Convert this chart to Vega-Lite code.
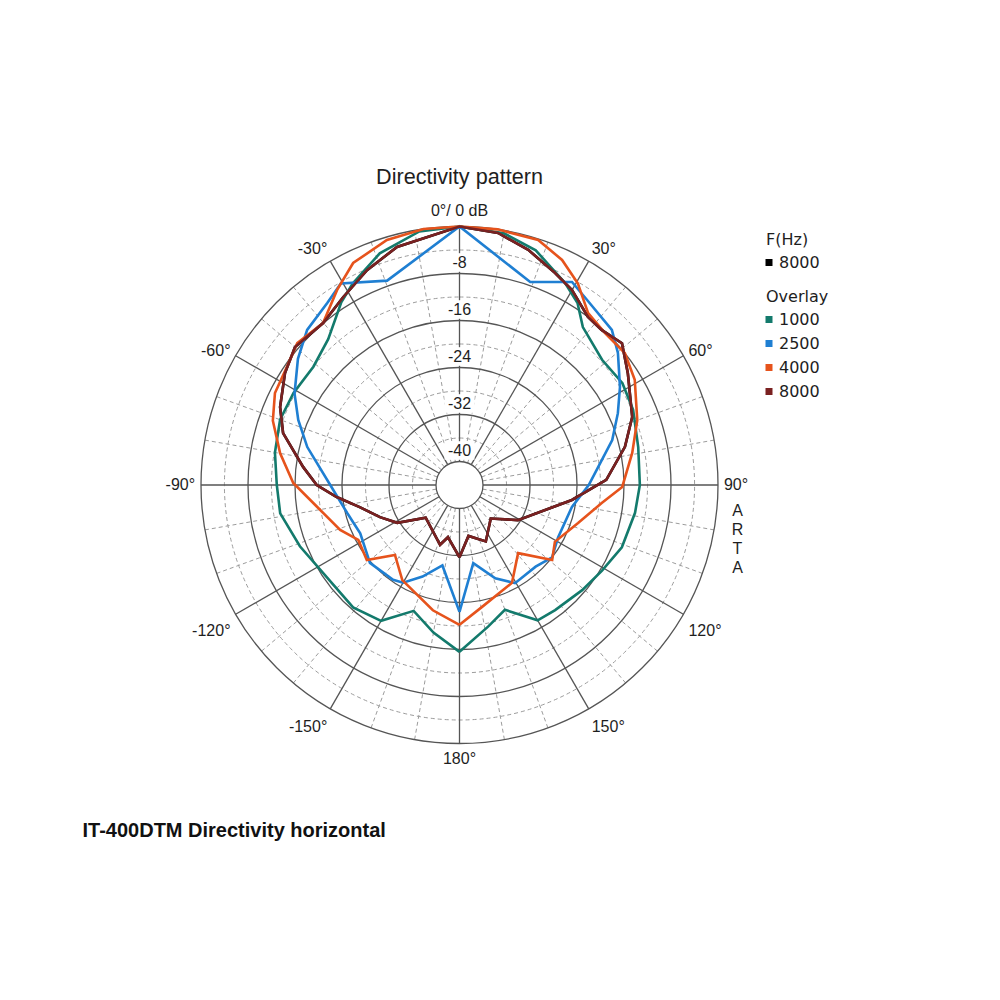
{
  "$schema": "https://vega.github.io/schema/vega-lite/v6.json",
  "width": 517,
  "height": 517,
  "autosize": {"type": "none"},
  "padding": {"left": 201, "top": 226.5, "right": 282, "bottom": 256.5},
  "background": "white",
  "config": {
    "font": "Liberation Sans",
    "view": {"stroke": null},
    "text": {"font": "Liberation Sans", "color": "#1e1e1e"},
    "axisX": {
      "domain": false, "ticks": false, "labels": false, "grid": false,
      "titleFont": "Liberation Sans", "titleFontSize": 20, "titleFontWeight": "bold", "titleColor": "#111111",
      "titleX": -119, "titleY": 86.5, "titleAlign": "left", "titleBaseline": "middle", "titleAngle": 0
    },
    "axisY": {
      "domain": false, "ticks": false, "labels": false, "grid": false,
      "titleFont": "Liberation Sans", "titleFontSize": 16, "titleFontWeight": "normal", "titleColor": "#1e1e1e",
      "titleAngle": 0, "titleX": 536, "titleY": 276, "titleAlign": "center", "titleBaseline": "top", "titleLineHeight": 19
    },
    "legend": {
      "labelFont": "DejaVu Sans", "titleFont": "DejaVu Sans",
      "labelFontSize": 16, "titleFontSize": 16, "titleFontWeight": "normal",
      "labelColor": "#1e1e1e", "titleColor": "#1e1e1e",
      "symbolType": "square", "symbolSize": 9, "symbolStrokeWidth": 4, "symbolOffset": -5,
      "rowPadding": 4, "titlePadding": 7, "labelOffset": 2
    }
  },
  "title": {
    "text": "Directivity pattern",
    "anchor": "middle",
    "frame": "group",
    "offset": 14,
    "fontSize": 21.6,
    "fontWeight": "normal",
    "color": "#1e1e1e",
    "font": "Liberation Sans"
  },
  "datasets": {
    "circles": [
      {"db": 0, "k": "solid"}, {"db": -8, "k": "solid"}, {"db": -16, "k": "solid"},
      {"db": -24, "k": "solid"}, {"db": -32, "k": "solid"}, {"db": -40, "k": "solid"},
      {"db": -4, "k": "dash"}, {"db": -12, "k": "dash"}, {"db": -20, "k": "dash"},
      {"db": -28, "k": "dash"}, {"db": -36, "k": "dash"}
    ],
    "spokes": [
      {"a": 0, "k": "solid"}, {"a": 30, "k": "solid"}, {"a": 60, "k": "solid"}, {"a": 90, "k": "solid"},
      {"a": 120, "k": "solid"}, {"a": 150, "k": "solid"}, {"a": 180, "k": "solid"}, {"a": 210, "k": "solid"},
      {"a": 240, "k": "solid"}, {"a": 270, "k": "solid"}, {"a": 300, "k": "solid"}, {"a": 330, "k": "solid"},
      {"a": 10, "k": "dash"}, {"a": 20, "k": "dash"}, {"a": 40, "k": "dash"}, {"a": 50, "k": "dash"},
      {"a": 70, "k": "dash"}, {"a": 80, "k": "dash"}, {"a": 100, "k": "dash"}, {"a": 110, "k": "dash"},
      {"a": 130, "k": "dash"}, {"a": 140, "k": "dash"}, {"a": 160, "k": "dash"}, {"a": 170, "k": "dash"},
      {"a": 190, "k": "dash"}, {"a": 200, "k": "dash"}, {"a": 220, "k": "dash"}, {"a": 230, "k": "dash"},
      {"a": 250, "k": "dash"}, {"a": 260, "k": "dash"}, {"a": 280, "k": "dash"}, {"a": 290, "k": "dash"},
      {"a": 310, "k": "dash"}, {"a": 320, "k": "dash"}, {"a": 340, "k": "dash"}, {"a": 350, "k": "dash"}
    ],
    "dblabels": [
      {"t": "-8", "db": -8}, {"t": "-16", "db": -16}, {"t": "-24", "db": -24},
      {"t": "-32", "db": -32}, {"t": "-40", "db": -40}
    ],
    "anglelabels": [
      {"t": "0°/ 0 dB", "a": 0}, {"t": "30°", "a": 30}, {"t": "60°", "a": 60}, {"t": "90°", "a": 90},
      {"t": "120°", "a": 120}, {"t": "150°", "a": 150}, {"t": "180°", "a": 180},
      {"t": "-150°", "a": -150}, {"t": "-120°", "a": -120}, {"t": "-90°", "a": -90},
      {"t": "-60°", "a": -60}, {"t": "-30°", "a": -30}
    ],
    "main": [
      {"f": "8000", "a": -180, "db": -31.7}, {"f": "8000", "a": -167.5, "db": -34.9}, {"f": "8000", "a": -162, "db": -33.3},
      {"f": "8000", "a": -134, "db": -36}, {"f": "8000", "a": -121.3, "db": -31.6}, {"f": "8000", "a": -112, "db": -29.4},
      {"f": "8000", "a": -102.5, "db": -26.6}, {"f": "8000", "a": -95.6, "db": -23}, {"f": "8000", "a": -90, "db": -19.7},
      {"f": "8000", "a": -83.4, "db": -17.2}, {"f": "8000", "a": -73.6, "db": -12.7}, {"f": "8000", "a": -66.5, "db": -10.7},
      {"f": "8000", "a": -57.3, "db": -8.7}, {"f": "8000", "a": -50, "db": -7.45}, {"f": "8000", "a": -40.1, "db": -7.95},
      {"f": "8000", "a": -31.8, "db": -6.4}, {"f": "8000", "a": -23.3, "db": -4.2}, {"f": "8000", "a": -14.7, "db": -2.1},
      {"f": "8000", "a": 0, "db": 0}, {"f": "8000", "a": 8.7, "db": -0.6}, {"f": "8000", "a": 16.3, "db": -2.3},
      {"f": "8000", "a": 24.2, "db": -4.4}, {"f": "8000", "a": 30, "db": -5.7}, {"f": "8000", "a": 37.4, "db": -8},
      {"f": "8000", "a": 42.6, "db": -8.2}, {"f": "8000", "a": 48.9, "db": -7.3}, {"f": "8000", "a": 56.4, "db": -9.6},
      {"f": "8000", "a": 68.5, "db": -12.4}, {"f": "8000", "a": 77, "db": -15.1}, {"f": "8000", "a": 88, "db": -19},
      {"f": "8000", "a": 97.6, "db": -24.7}, {"f": "8000", "a": 106.3, "db": -28.8}, {"f": "8000", "a": 121, "db": -32.4},
      {"f": "8000", "a": 137, "db": -36.2}, {"f": "8000", "a": 155, "db": -33.4}, {"f": "8000", "a": 170, "db": -35.2},
      {"f": "8000", "a": 180, "db": -31.7}
    ],
    "curves": [
      {"f": "1000", "a": -180, "db": -15.6}, {"f": "1000", "a": -170, "db": -18.5}, {"f": "1000", "a": -160, "db": -21.2},
      {"f": "1000", "a": -150, "db": -17.3}, {"f": "1000", "a": -139, "db": -16.4}, {"f": "1000", "a": -125, "db": -16.5},
      {"f": "1000", "a": -111, "db": -14.9}, {"f": "1000", "a": -99, "db": -13.1}, {"f": "1000", "a": -90, "db": -12.9},
      {"f": "1000", "a": -80, "db": -12.1}, {"f": "1000", "a": -70, "db": -11.5}, {"f": "1000", "a": -61, "db": -11.7},
      {"f": "1000", "a": -51, "db": -12}, {"f": "1000", "a": -42, "db": -10.6}, {"f": "1000", "a": -33, "db": -7},
      {"f": "1000", "a": -28, "db": -5.2}, {"f": "1000", "a": -19, "db": -2.3}, {"f": "1000", "a": -9, "db": -0.3},
      {"f": "1000", "a": 0, "db": 0}, {"f": "1000", "a": 10, "db": -0.5}, {"f": "1000", "a": 18, "db": -2},
      {"f": "1000", "a": 27.6, "db": -5.2}, {"f": "1000", "a": 33, "db": -7.1}, {"f": "1000", "a": 38, "db": -9.9},
      {"f": "1000", "a": 48.7, "db": -11.7}, {"f": "1000", "a": 58, "db": -11.3}, {"f": "1000", "a": 66.6, "db": -11.8},
      {"f": "1000", "a": 78, "db": -12.9}, {"f": "1000", "a": 90, "db": -13.3}, {"f": "1000", "a": 99, "db": -13.75},
      {"f": "1000", "a": 111, "db": -14.4}, {"f": "1000", "a": 121, "db": -15.7}, {"f": "1000", "a": 130.6, "db": -16.5},
      {"f": "1000", "a": 142.6, "db": -17.2}, {"f": "1000", "a": 150, "db": -17.4}, {"f": "1000", "a": 160, "db": -21.4},
      {"f": "1000", "a": 168.6, "db": -19.4}, {"f": "1000", "a": 180, "db": -15.6},

      {"f": "2500", "a": -180, "db": -22.4}, {"f": "2500", "a": -168, "db": -30}, {"f": "2500", "a": -158, "db": -27.2},
      {"f": "2500", "a": -150, "db": -24.8}, {"f": "2500", "a": -145, "db": -24.3}, {"f": "2500", "a": -131, "db": -23.8},
      {"f": "2500", "a": -116, "db": -25.2}, {"f": "2500", "a": -104, "db": -24.3}, {"f": "2500", "a": -90, "db": -22},
      {"f": "2500", "a": -76, "db": -17.3}, {"f": "2500", "a": -68, "db": -14.4}, {"f": "2500", "a": -61, "db": -11.9},
      {"f": "2500", "a": -52, "db": -9.1}, {"f": "2500", "a": -44.5, "db": -7}, {"f": "2500", "a": -36, "db": -5.7},
      {"f": "2500", "a": -30.5, "db": -4.2}, {"f": "2500", "a": -19.5, "db": -7.1}, {"f": "2500", "a": 0, "db": 0},
      {"f": "2500", "a": 19.2, "db": -7.4}, {"f": "2500", "a": 29, "db": -4.5}, {"f": "2500", "a": 34.6, "db": -5.75},
      {"f": "2500", "a": 44.5, "db": -7}, {"f": "2500", "a": 50.2, "db": -8.9}, {"f": "2500", "a": 58.6, "db": -12},
      {"f": "2500", "a": 65.6, "db": -14.4}, {"f": "2500", "a": 73.6, "db": -16.9}, {"f": "2500", "a": 85, "db": -20.85},
      {"f": "2500", "a": 90, "db": -22}, {"f": "2500", "a": 101, "db": -24.5}, {"f": "2500", "a": 118, "db": -25},
      {"f": "2500", "a": 128, "db": -24}, {"f": "2500", "a": 137, "db": -25}, {"f": "2500", "a": 150.5, "db": -24.8},
      {"f": "2500", "a": 159, "db": -27}, {"f": "2500", "a": 170, "db": -30.5}, {"f": "2500", "a": 180, "db": -22.4},

      {"f": "4000", "a": -180, "db": -20.2}, {"f": "4000", "a": -168, "db": -22.2}, {"f": "4000", "a": -149, "db": -25.1},
      {"f": "4000", "a": -137.3, "db": -27.8}, {"f": "4000", "a": -129, "db": -23.7}, {"f": "4000", "a": -118.5, "db": -24.4},
      {"f": "4000", "a": -110.6, "db": -22.3}, {"f": "4000", "a": -98.8, "db": -19.5}, {"f": "4000", "a": -89.3, "db": -15.7},
      {"f": "4000", "a": -80, "db": -13}, {"f": "4000", "a": -71, "db": -10.4}, {"f": "4000", "a": -63.5, "db": -8.9},
      {"f": "4000", "a": -55.6, "db": -8.4}, {"f": "4000", "a": -48.8, "db": -7.3}, {"f": "4000", "a": -40.1, "db": -7.95},
      {"f": "4000", "a": -32.1, "db": -4.8}, {"f": "4000", "a": -25.6, "db": -2.1}, {"f": "4000", "a": -16.5, "db": -0.5},
      {"f": "4000", "a": -8, "db": 0}, {"f": "4000", "a": 0, "db": 0}, {"f": "4000", "a": 8.5, "db": 0},
      {"f": "4000", "a": 17.8, "db": -0.2}, {"f": "4000", "a": 24.5, "db": -1.9}, {"f": "4000", "a": 30.4, "db": -4.2},
      {"f": "4000", "a": 36.8, "db": -7.45}, {"f": "4000", "a": 43.7, "db": -8.2}, {"f": "4000", "a": 51.4, "db": -8},
      {"f": "4000", "a": 59, "db": -9.2}, {"f": "4000", "a": 70, "db": -11.8}, {"f": "4000", "a": 79.5, "db": -14.1},
      {"f": "4000", "a": 90.7, "db": -16.3}, {"f": "4000", "a": 97.2, "db": -19.6}, {"f": "4000", "a": 107.8, "db": -22.8},
      {"f": "4000", "a": 120.8, "db": -25.1}, {"f": "4000", "a": 129, "db": -23.7}, {"f": "4000", "a": 139.3, "db": -28.7},
      {"f": "4000", "a": 151.8, "db": -25.1}, {"f": "4000", "a": 169.5, "db": -22.9}, {"f": "4000", "a": 180, "db": -20.2},

      {"f": "8000", "a": -180, "db": -31.7}, {"f": "8000", "a": -167.5, "db": -34.9}, {"f": "8000", "a": -162, "db": -33.3},
      {"f": "8000", "a": -134, "db": -36}, {"f": "8000", "a": -121.3, "db": -31.6}, {"f": "8000", "a": -112, "db": -29.4},
      {"f": "8000", "a": -102.5, "db": -26.6}, {"f": "8000", "a": -95.6, "db": -23}, {"f": "8000", "a": -90, "db": -19.7},
      {"f": "8000", "a": -83.4, "db": -17.2}, {"f": "8000", "a": -73.6, "db": -12.7}, {"f": "8000", "a": -66.5, "db": -10.7},
      {"f": "8000", "a": -57.3, "db": -8.7}, {"f": "8000", "a": -50, "db": -7.45}, {"f": "8000", "a": -40.1, "db": -7.95},
      {"f": "8000", "a": -31.8, "db": -6.4}, {"f": "8000", "a": -23.3, "db": -4.2}, {"f": "8000", "a": -14.7, "db": -2.1},
      {"f": "8000", "a": 0, "db": 0}, {"f": "8000", "a": 8.7, "db": -0.6}, {"f": "8000", "a": 16.3, "db": -2.3},
      {"f": "8000", "a": 24.2, "db": -4.4}, {"f": "8000", "a": 30, "db": -5.7}, {"f": "8000", "a": 37.4, "db": -8},
      {"f": "8000", "a": 42.6, "db": -8.2}, {"f": "8000", "a": 48.9, "db": -7.3}, {"f": "8000", "a": 56.4, "db": -9.6},
      {"f": "8000", "a": 68.5, "db": -12.4}, {"f": "8000", "a": 77, "db": -15.1}, {"f": "8000", "a": 88, "db": -19},
      {"f": "8000", "a": 97.6, "db": -24.7}, {"f": "8000", "a": 106.3, "db": -28.8}, {"f": "8000", "a": 121, "db": -32.4},
      {"f": "8000", "a": 137, "db": -36.2}, {"f": "8000", "a": 155, "db": -33.4}, {"f": "8000", "a": 170, "db": -35.2},
      {"f": "8000", "a": 180, "db": -31.7}
    ]
  },
  "layer": [
    {
      "data": {"name": "circles"},
      "transform": [{"filter": "datum.k === 'dash'"}, {"calculate": "datum.db + 44", "as": "r"}],
      "mark": {"type": "arc", "filled": false, "theta": 0, "theta2": 6.2832, "color": "#9c9c9c", "strokeWidth": 1, "strokeDash": [4, 3]},
      "encoding": {
        "radius": {"field": "r", "type": "quantitative", "stack": null, "scale": {"type": "linear", "domain": [0, 44], "range": [0, 258.5], "zero": true}}
      }
    },
    {
      "data": {"name": "spokes"},
      "transform": [
        {"filter": "datum.k === 'dash'"},
        {"calculate": "4*sin(datum.a*PI/180)", "as": "x1"},
        {"calculate": "4*cos(datum.a*PI/180)", "as": "y1"},
        {"calculate": "44*sin(datum.a*PI/180)", "as": "x2"},
        {"calculate": "44*cos(datum.a*PI/180)", "as": "y2"}
      ],
      "mark": {"type": "rule", "color": "#9c9c9c", "strokeWidth": 1, "strokeDash": [4, 3]},
      "encoding": {
        "x": {"field": "x1", "type": "quantitative", "scale": {"domain": [-44, 44], "nice": false, "zero": false}, "title": "IT-400DTM Directivity horizontal"},
        "y": {"field": "y1", "type": "quantitative", "scale": {"domain": [-44, 44], "nice": false, "zero": false}, "title": ["A", "R", "T", "A"]},
        "x2": {"field": "x2"},
        "y2": {"field": "y2"}
      }
    },
    {
      "data": {"name": "circles"},
      "transform": [{"filter": "datum.k === 'solid'"}, {"calculate": "datum.db + 44", "as": "r"}],
      "mark": {"type": "arc", "filled": false, "theta": 0, "theta2": 6.2832, "color": "#555555", "strokeWidth": 1.3},
      "encoding": {
        "radius": {"field": "r", "type": "quantitative", "stack": null, "scale": {"type": "linear", "domain": [0, 44], "range": [0, 258.5], "zero": true}}
      }
    },
    {
      "data": {"name": "spokes"},
      "transform": [
        {"filter": "datum.k === 'solid'"},
        {"calculate": "4*sin(datum.a*PI/180)", "as": "x1"},
        {"calculate": "4*cos(datum.a*PI/180)", "as": "y1"},
        {"calculate": "44*sin(datum.a*PI/180)", "as": "x2"},
        {"calculate": "44*cos(datum.a*PI/180)", "as": "y2"}
      ],
      "mark": {"type": "rule", "color": "#555555", "strokeWidth": 1.3},
      "encoding": {
        "x": {"field": "x1", "type": "quantitative", "scale": {"domain": [-44, 44], "nice": false, "zero": false}, "title": "IT-400DTM Directivity horizontal"},
        "y": {"field": "y1", "type": "quantitative", "scale": {"domain": [-44, 44], "nice": false, "zero": false}, "title": ["A", "R", "T", "A"]},
        "x2": {"field": "x2"},
        "y2": {"field": "y2"}
      }
    },
    {
      "data": {"name": "dblabels"},
      "transform": [{"calculate": "datum.db + 44", "as": "r"}],
      "mark": {"type": "point", "shape": "M-1,-0.62H1V0.62H-1Z", "filled": true, "color": "white", "opacity": 1, "size": 900, "yOffset": -11, "strokeWidth": 0},
      "encoding": {
        "x": {"datum": 0, "type": "quantitative", "scale": {"domain": [-44, 44], "nice": false, "zero": false}, "title": "IT-400DTM Directivity horizontal"},
        "y": {"field": "r", "type": "quantitative", "scale": {"domain": [-44, 44], "nice": false, "zero": false}, "title": ["A", "R", "T", "A"]}
      }
    },
    {
      "data": {"name": "dblabels"},
      "transform": [{"calculate": "datum.db + 44", "as": "r"}],
      "mark": {"type": "text", "fontSize": 16, "baseline": "middle", "align": "center", "dy": -11, "color": "#1e1e1e"},
      "encoding": {
        "x": {"datum": 0, "type": "quantitative", "scale": {"domain": [-44, 44], "nice": false, "zero": false}, "title": "IT-400DTM Directivity horizontal"},
        "y": {"field": "r", "type": "quantitative", "scale": {"domain": [-44, 44], "nice": false, "zero": false}, "title": ["A", "R", "T", "A"]},
        "text": {"field": "t"}
      }
    },
    {
      "data": {"name": "anglelabels"},
      "transform": [
        {"filter": "datum.a === 0 || datum.a === 180"},
        {"calculate": "45*sin(datum.a*PI/180)", "as": "x"},
        {"calculate": "46.7*cos(datum.a*PI/180)", "as": "y"}
      ],
      "mark": {"type": "text", "fontSize": 16, "baseline": "middle", "align": "center", "color": "#1e1e1e"},
      "encoding": {
        "x": {"field": "x", "type": "quantitative", "scale": {"domain": [-44, 44], "nice": false, "zero": false}, "title": "IT-400DTM Directivity horizontal"},
        "y": {"field": "y", "type": "quantitative", "scale": {"domain": [-44, 44], "nice": false, "zero": false}, "title": ["A", "R", "T", "A"]},
        "text": {"field": "t"}
      }
    },
    {
      "data": {"name": "anglelabels"},
      "transform": [
        {"filter": "datum.a > 0 && datum.a < 180"},
        {"calculate": "sin(datum.a*PI/180)", "as": "s"},
        {"calculate": "cos(datum.a*PI/180)", "as": "c"},
        {"calculate": "45*datum.s", "as": "x"},
        {"calculate": "46.64*datum.c - (datum.c >= 0 ? 8 : -24)*datum.s*datum.s*datum.c/5.875", "as": "y"}
      ],
      "mark": {"type": "text", "fontSize": 16, "baseline": "middle", "align": "left", "color": "#1e1e1e"},
      "encoding": {
        "x": {"field": "x", "type": "quantitative", "scale": {"domain": [-44, 44], "nice": false, "zero": false}, "title": "IT-400DTM Directivity horizontal"},
        "y": {"field": "y", "type": "quantitative", "scale": {"domain": [-44, 44], "nice": false, "zero": false}, "title": ["A", "R", "T", "A"]},
        "text": {"field": "t"}
      }
    },
    {
      "data": {"name": "anglelabels"},
      "transform": [
        {"filter": "datum.a < 0 && datum.a > -180"},
        {"calculate": "sin(datum.a*PI/180)", "as": "s"},
        {"calculate": "cos(datum.a*PI/180)", "as": "c"},
        {"calculate": "45*datum.s", "as": "x"},
        {"calculate": "46.64*datum.c - (datum.c >= 0 ? 8 : -24)*datum.s*datum.s*datum.c/5.875", "as": "y"}
      ],
      "mark": {"type": "text", "fontSize": 16, "baseline": "middle", "align": "right", "color": "#1e1e1e"},
      "encoding": {
        "x": {"field": "x", "type": "quantitative", "scale": {"domain": [-44, 44], "nice": false, "zero": false}, "title": "IT-400DTM Directivity horizontal"},
        "y": {"field": "y", "type": "quantitative", "scale": {"domain": [-44, 44], "nice": false, "zero": false}, "title": ["A", "R", "T", "A"]},
        "text": {"field": "t"}
      }
    },
    {
      "data": {"name": "main"},
      "transform": [
        {"calculate": "(datum.db+44)*sin(datum.a*PI/180)", "as": "x"},
        {"calculate": "(datum.db+44)*cos(datum.a*PI/180)", "as": "y"}
      ],
      "mark": {"type": "line", "strokeWidth": 2.6},
      "encoding": {
        "x": {"field": "x", "type": "quantitative", "scale": {"domain": [-44, 44], "nice": false, "zero": false}, "title": "IT-400DTM Directivity horizontal"},
        "y": {"field": "y", "type": "quantitative", "scale": {"domain": [-44, 44], "nice": false, "zero": false}, "title": ["A", "R", "T", "A"]},
        "order": {"field": "a", "type": "quantitative"},
        "color": {
          "field": "f", "type": "nominal",
          "scale": {"domain": ["8000"], "range": ["#000000"]},
          "legend": {"title": "F(Hz)", "orient": "none", "legendX": 565, "legendY": 5, "symbolType": "square"}
        }
      }
    },
    {
      "data": {"name": "curves"},
      "transform": [
        {"calculate": "(datum.db+44)*sin(datum.a*PI/180)", "as": "x"},
        {"calculate": "(datum.db+44)*cos(datum.a*PI/180)", "as": "y"}
      ],
      "mark": {"type": "line", "strokeWidth": 2.6},
      "encoding": {
        "x": {"field": "x", "type": "quantitative", "scale": {"domain": [-44, 44], "nice": false, "zero": false}, "title": "IT-400DTM Directivity horizontal"},
        "y": {"field": "y", "type": "quantitative", "scale": {"domain": [-44, 44], "nice": false, "zero": false}, "title": ["A", "R", "T", "A"]},
        "order": {"field": "a", "type": "quantitative"},
        "stroke": {
          "field": "f", "type": "nominal",
          "scale": {"domain": ["1000", "2500", "4000", "8000"], "range": ["#137a6c", "#1f7fd2", "#e6531c", "#7a2121"]},
          "legend": {"title": "Overlay", "orient": "none", "legendX": 565, "legendY": 62, "symbolType": "square"}
        }
      }
    }
  ]
}
